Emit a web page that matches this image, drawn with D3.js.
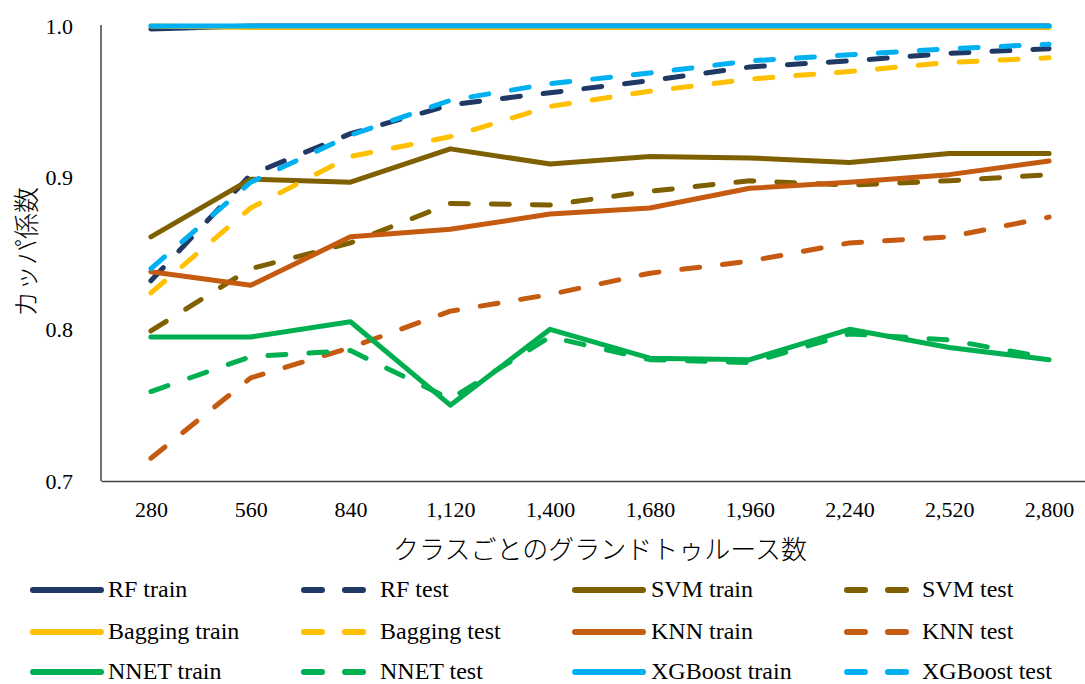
<!DOCTYPE html>
<html>
<head>
<meta charset="utf-8">
<script src="https://cdn.jsdelivr.net/npm/d3@7"></script>
<style>
  html, body { margin: 0; padding: 0; background: #fff; }
  svg { display: block; }
  text { font-family: "Liberation Serif", "Noto Sans CJK JP", serif; fill: #000; }
</style>
</head>
<body>
<svg id="chart" width="1085" height="684"></svg>
<script>
// Training sample counts per class (x categories)
const categories = ["280", "560", "840", "1,120", "1,400", "1,680", "1,960", "2,240", "2,520", "2,800"];
const yTicks = [0.7, 0.8, 0.9, 1.0];

// Kappa coefficient per model, train and test
const rfTrain      = [0.998, 1.000, 1.000, 1.000, 1.000, 1.000, 1.000, 1.000, 1.000, 1.000];
const rfTest       = [0.832, 0.902, 0.929, 0.948, 0.956, 0.964, 0.973, 0.977, 0.982, 0.985];
const svmTrain     = [0.861, 0.899, 0.897, 0.919, 0.909, 0.914, 0.913, 0.910, 0.916, 0.916];
const svmTest      = [0.799, 0.840, 0.857, 0.883, 0.882, 0.891, 0.898, 0.895, 0.898, 0.902];
const baggingTrain = [1.000, 0.999, 0.999, 0.999, 0.999, 0.999, 0.999, 0.999, 0.999, 0.999];
const baggingTest  = [0.824, 0.880, 0.914, 0.927, 0.947, 0.957, 0.965, 0.970, 0.976, 0.979];
const knnTrain     = [0.838, 0.829, 0.861, 0.866, 0.876, 0.880, 0.893, 0.897, 0.902, 0.911];
const knnTest      = [0.715, 0.768, 0.788, 0.812, 0.823, 0.837, 0.845, 0.857, 0.861, 0.874];
const nnetTrain    = [0.795, 0.795, 0.805, 0.750, 0.800, 0.781, 0.780, 0.800, 0.788, 0.780];
const nnetTest     = [0.759, 0.782, 0.786, 0.754, 0.795, 0.780, 0.778, 0.797, 0.793, 0.781];
const xgbTrain     = [1.000, 1.000, 1.000, 1.000, 1.000, 1.000, 1.000, 1.000, 1.000, 1.000];
const xgbTest      = [0.840, 0.897, 0.928, 0.951, 0.962, 0.969, 0.977, 0.981, 0.985, 0.988];

const seriesNames = ["RF train", "RF test", "SVM train", "SVM test",
                     "Bagging train", "Bagging test", "KNN train", "KNN test",
                     "NNET train", "NNET test", "XGBoost train", "XGBoost test"];
const seriesValues = [rfTrain, rfTest, svmTrain, svmTest,
                      baggingTrain, baggingTest, knnTrain, knnTest,
                      nnetTrain, nnetTest, xgbTrain, xgbTest];
const seriesColors = ["#203864", "#203864", "#7F6000", "#7F6000",
                      "#FFC000", "#FFC000", "#C55A11", "#C55A11",
                      "#00B050", "#00B050", "#00B0F0", "#00B0F0"];
const seriesDashed = [false, true, false, true, false, true, false, true, false, true, false, true];

const svg = d3.select("#chart");
const plot = { left: 101, right: 1099, top: 26, bottom: 481 };

const x = d3.scalePoint().domain(categories).range([plot.left, plot.right]).padding(0.5);
const y = d3.scaleLinear().domain([0.7, 1.0]).range([plot.bottom, plot.top]);

const dash = "18 23";
const lineW = 5;

// Axes
const yAxis = svg.append("g").attr("transform", `translate(${plot.left},0)`)
  .call(d3.axisLeft(y).tickValues(yTicks).tickFormat(d3.format(".1f")).tickSize(0).tickPadding(28));
yAxis.select(".domain").attr("stroke", "#404040").attr("stroke-width", 1.5).attr("d", `M0,${plot.top - 1}V${plot.bottom}`);
yAxis.selectAll("text").attr("font-size", 22).attr("font-family", "Liberation Serif");

const xAxis = svg.append("g").attr("transform", `translate(0,${plot.bottom})`)
  .call(d3.axisBottom(x).tickSize(0).tickPadding(20));
xAxis.select(".domain").attr("stroke", "#404040").attr("stroke-width", 1.5);
xAxis.selectAll("text").attr("font-size", 22).attr("font-family", "Liberation Serif").attr("dy", "0.71em");

// Axis titles
svg.append("text")
  .attr("x", (plot.left + plot.right) / 2).attr("y", 559)
  .attr("text-anchor", "middle")
  .attr("font-size", 26)
  .attr("font-family", "Noto Sans CJK JP")
  .attr("font-weight", 300)
  .text("クラスごとのグランドトゥルース数");

svg.append("text")
  .attr("transform", "translate(36,252) rotate(-90)")
  .attr("text-anchor", "middle")
  .attr("font-size", 26)
  .attr("font-family", "Noto Sans CJK JP")
  .attr("font-weight", 300)
  .text("カッパ係数");

// Lines
const line = d3.line()
  .x((d, i) => x(categories[i]))
  .y(d => y(d));

const lines = svg.append("g");
seriesValues.forEach((vals, k) => {
  lines.append("path")
    .datum(vals)
    .attr("d", line)
    .attr("fill", "none")
    .attr("stroke", seriesColors[k])
    .attr("stroke-width", lineW)
    .attr("stroke-linejoin", "round")
    .attr("stroke-linecap", "round")
    .attr("stroke-dasharray", seriesDashed[k] ? dash : null);
});

// Legend: 4 columns x 3 rows
const legendCols = [
  { x0: 33, x1: 101, tx: 108 },
  { x0: 304, x1: 365, tx: 380 },
  { x0: 575, x1: 643, tx: 651 },
  { x0: 847, x1: 907, tx: 922 }
];
const legendRows = [590, 632, 672];

const legend = svg.append("g");
seriesNames.forEach((name, k) => {
  const col = legendCols[k % 4];
  const row = legendRows[Math.floor(k / 4)];
  legend.append("line")
    .attr("x1", col.x0).attr("x2", col.x1)
    .attr("y1", row).attr("y2", row)
    .attr("stroke", seriesColors[k])
    .attr("stroke-width", 6)
    .attr("stroke-linecap", "round")
    .attr("stroke-dasharray", seriesDashed[k] ? dash : null);
  legend.append("text")
    .attr("x", col.tx).attr("y", row)
    .attr("dy", "0.3em")
    .attr("font-size", 24)
    .text(name);
});
</script>
</body>
</html>
